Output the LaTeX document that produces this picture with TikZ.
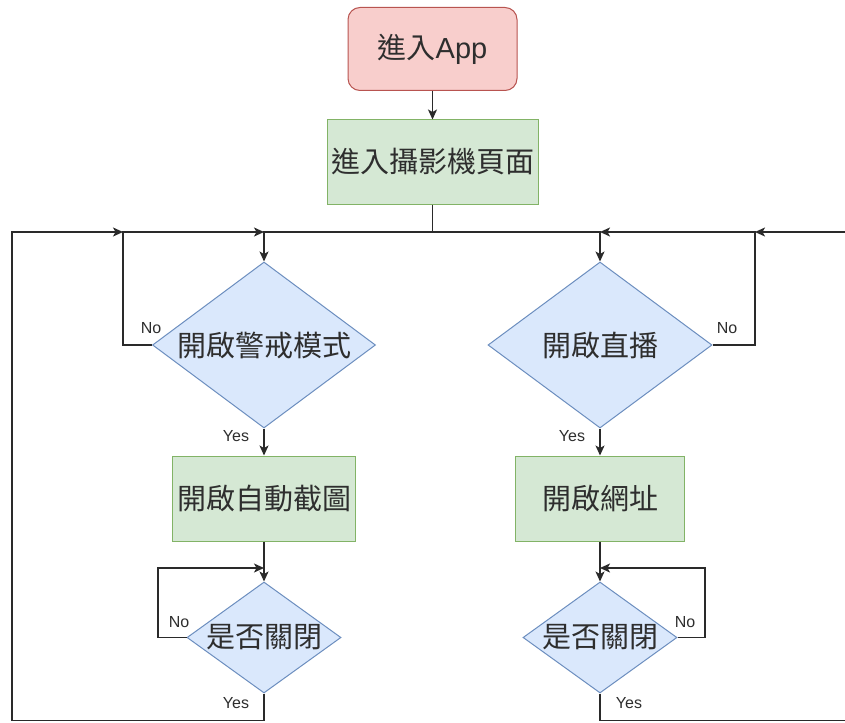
\documentclass[tikz,border=0pt]{standalone}
\usepackage{fontspec}
\setmainfont{Liberation Sans}
\newfontfamily\cjk{Noto Sans CJK TC}
\usetikzlibrary{shapes.geometric,arrows.meta}
\definecolor{pinkfill}{HTML}{F8CECC}
\definecolor{pinkline}{HTML}{B85450}
\definecolor{greenfill}{HTML}{D5E8D4}
\definecolor{greenline}{HTML}{82B366}
\definecolor{bluefill}{HTML}{DAE8FC}
\definecolor{blueline}{HTML}{6C8EBF}
\definecolor{wire}{HTML}{2A2A2A}
\definecolor{ink}{HTML}{2E2E2E}
\tikzset{
  bigtext/.style={font=\fontsize{29}{34}\selectfont, text=ink},
  startbox/.style={rectangle, rounded corners=12pt, draw=pinkline, fill=pinkfill, line width=1pt, inner sep=0pt, bigtext},
  procbox/.style={rectangle, draw=greenline, fill=greenfill, line width=1pt, inner sep=0pt, bigtext},
  decision/.style={diamond, draw=blueline, fill=bluefill, line width=1pt, inner sep=0pt},
  dtext/.style={bigtext, inner sep=0pt},
  edgelbl/.style={font=\fontsize{16}{18}\selectfont, text=ink, inner sep=0pt},
  wireline/.style={draw=wire, line width=1.4pt},
  arr/.style={wireline, -{Stealth[length=10pt,width=9pt,inset=2.5pt]}},
}
\begin{document}
\begin{tikzpicture}[x=1pt,y=-1pt]
\useasboundingbox (0,0) rectangle (845,722);
\fill[white] (0,0) rectangle (845,722);
\clip (0,0) rectangle (845,722);

% nodes
\node[startbox, minimum width=169pt, minimum height=83pt] (app) at (432.5,49) {{\cjk 進入}App};
\node[procbox, minimum width=211pt, minimum height=84pt] (cam) at (432.5,162) {\cjk 進入攝影機頁面};

\node[decision, minimum width=223pt, minimum height=166pt] (d1) at (264,345) {};
\node[dtext] (d1t) at (d1.center) {\cjk 開啟警戒模式};
\node[decision, minimum width=224pt, minimum height=166pt] (d2) at (600,345) {};
\node[dtext] (d2t) at (d2.center) {\cjk 開啟直播};

\node[procbox, minimum width=183pt, minimum height=85pt] (b1) at (264,498.5) {\cjk 開啟自動截圖};
\node[procbox, minimum width=169pt, minimum height=85pt] (b2) at (600,498.5) {\cjk 開啟網址};

\node[decision, minimum width=154pt, minimum height=111pt] (c1) at (264,637.5) {};
\node[dtext] (c1t) at (c1.center) {\cjk 是否關閉};
\node[decision, minimum width=154pt, minimum height=111pt] (c2) at (600,637.5) {};
\node[dtext] (c2t) at (c2.center) {\cjk 是否關閉};

% junction coordinates
\coordinate (top1) at (264,232);
\coordinate (top2) at (600,232);
\coordinate (nl) at (123,232);
\coordinate (nr) at (755,232);
\coordinate (loopl) at (158,568);
\coordinate (loopl2) at (264,568);
\coordinate (loopr) at (705,568);
\coordinate (loopr2) at (600,568);
\coordinate (outl) at (12,720.5);
\coordinate (outr) at (870,720.5);

% connectors
\draw[arr] (app) -- (cam);
\draw[arr] (cam.south) |- (top1) -- (d1.north);
\draw[arr] (cam.south) |- (top2) -- (d2.north);
\draw[arr] (d1.west) -| (nl) -- (top1);
\draw[arr] (d2.east) -| (nr) -- (top2);
\draw[arr] (d1.south) -- (b1.north);
\draw[arr] (d2.south) -- (b2.north);
\draw[arr] (b1.south) -- (c1.north);
\draw[arr] (b2.south) -- (c2.north);
\draw[arr] (c1.west) -| (loopl) -- (loopl2);
\draw[arr] (c2.east) -| (loopr) -- (loopr2);
\draw[arr] (c1.south) |- (outl) |- (nl);
\draw[arr] (c2.south) |- (outr) |- (nr);

% labels
\node[edgelbl] (n1) at (151,328) {No};
\node[edgelbl] (n2) at (727,328) {No};
\node[edgelbl] (y1) at (236,436) {Yes};
\node[edgelbl] (y2) at (572,436) {Yes};
\node[edgelbl] (n3) at (179,622) {No};
\node[edgelbl] (n4) at (685,622) {No};
\node[edgelbl] (y3) at (236,703) {Yes};
\node[edgelbl] (y4) at (629,703) {Yes};
\end{tikzpicture}
\end{document}
